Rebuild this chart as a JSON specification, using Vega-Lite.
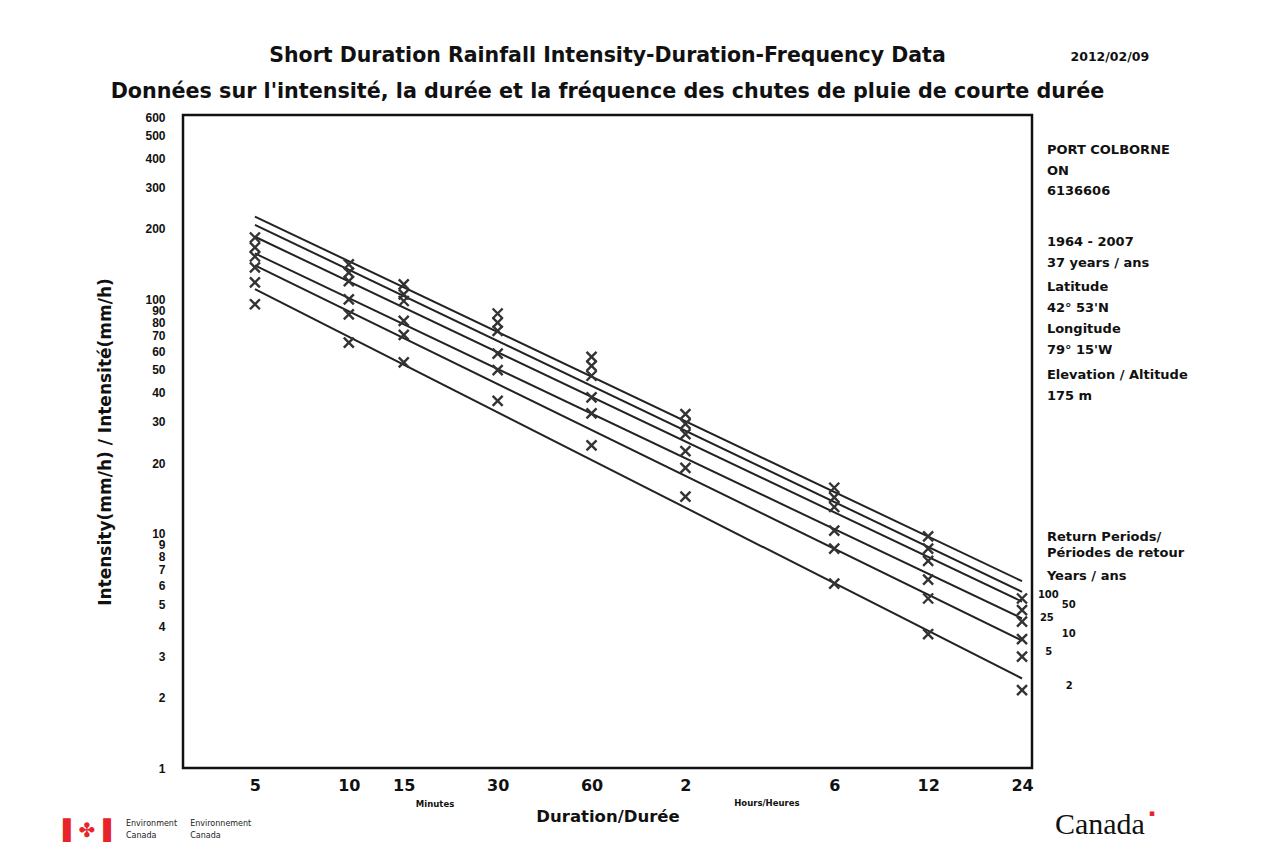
{
  "$schema": "https://vega.github.io/schema/vega-lite/v6.json",
  "width": 849,
  "height": 653,
  "autosize": {"type": "none"},
  "padding": {"left": 183, "top": 115, "right": 233, "bottom": 76},
  "background": "white",
  "config": {
    "view": {"stroke": "#111111", "strokeWidth": 2.5},
    "font": "DejaVu Sans"
  },
  "title": {
    "text": "Short Duration Rainfall Intensity-Duration-Frequency Data",
    "subtitle": "Données sur l'intensité, la durée et la fréquence des chutes de pluie de courte durée",
    "anchor": "middle",
    "frame": "group",
    "font": "DejaVu Sans",
    "fontSize": 20.5,
    "fontWeight": "bold",
    "color": "#111111",
    "subtitleFont": "DejaVu Sans",
    "subtitleFontSize": 20.7,
    "subtitleFontWeight": "bold",
    "subtitleColor": "#111111",
    "subtitlePadding": 16,
    "offset": -51
  },
  "datasets": {
    "points": [
      {"duration": 5, "period": "100", "intensity": 183.6},
      {"duration": 5, "period": "50", "intensity": 166.5},
      {"duration": 5, "period": "25", "intensity": 152.4},
      {"duration": 5, "period": "10", "intensity": 136.8},
      {"duration": 5, "period": "5", "intensity": 118.1},
      {"duration": 5, "period": "2", "intensity": 95.3},
      {"duration": 10, "period": "100", "intensity": 140.9},
      {"duration": 10, "period": "50", "intensity": 130},
      {"duration": 10, "period": "25", "intensity": 119.7},
      {"duration": 10, "period": "10", "intensity": 100},
      {"duration": 10, "period": "5", "intensity": 86.3},
      {"duration": 10, "period": "2", "intensity": 65.4},
      {"duration": 15, "period": "100", "intensity": 115.8},
      {"duration": 15, "period": "50", "intensity": 105},
      {"duration": 15, "period": "25", "intensity": 98.4},
      {"duration": 15, "period": "10", "intensity": 80.9},
      {"duration": 15, "period": "5", "intensity": 70.5},
      {"duration": 15, "period": "2", "intensity": 53.8},
      {"duration": 30, "period": "100", "intensity": 87},
      {"duration": 30, "period": "50", "intensity": 79.6},
      {"duration": 30, "period": "25", "intensity": 73.3},
      {"duration": 30, "period": "10", "intensity": 58.7},
      {"duration": 30, "period": "5", "intensity": 49.9},
      {"duration": 30, "period": "2", "intensity": 36.9},
      {"duration": 60, "period": "100", "intensity": 56.8},
      {"duration": 60, "period": "50", "intensity": 52},
      {"duration": 60, "period": "25", "intensity": 47.2},
      {"duration": 60, "period": "10", "intensity": 38.2},
      {"duration": 60, "period": "5", "intensity": 32.6},
      {"duration": 60, "period": "2", "intensity": 23.8},
      {"duration": 120, "period": "100", "intensity": 32.4},
      {"duration": 120, "period": "50", "intensity": 29.4},
      {"duration": 120, "period": "25", "intensity": 26.6},
      {"duration": 120, "period": "10", "intensity": 22.5},
      {"duration": 120, "period": "5", "intensity": 19.1},
      {"duration": 120, "period": "2", "intensity": 14.4},
      {"duration": 360, "period": "100", "intensity": 15.7},
      {"duration": 360, "period": "50", "intensity": 14.3},
      {"duration": 360, "period": "25", "intensity": 13.0},
      {"duration": 360, "period": "10", "intensity": 10.3},
      {"duration": 360, "period": "5", "intensity": 8.63},
      {"duration": 360, "period": "2", "intensity": 6.12},
      {"duration": 720, "period": "100", "intensity": 9.74},
      {"duration": 720, "period": "50", "intensity": 8.63},
      {"duration": 720, "period": "25", "intensity": 7.65},
      {"duration": 720, "period": "10", "intensity": 6.37},
      {"duration": 720, "period": "5", "intensity": 5.29},
      {"duration": 720, "period": "2", "intensity": 3.73},
      {"duration": 1440, "period": "100", "intensity": 5.29},
      {"duration": 1440, "period": "50", "intensity": 4.72},
      {"duration": 1440, "period": "25", "intensity": 4.21},
      {"duration": 1440, "period": "10", "intensity": 3.55},
      {"duration": 1440, "period": "5", "intensity": 2.99},
      {"duration": 1440, "period": "2", "intensity": 2.15}
    ],
    "fits": [
      {"period": "100", "duration": 5, "intensity": 225.6},
      {"period": "100", "duration": 1440, "intensity": 6.27},
      {"period": "50", "duration": 5, "intensity": 208},
      {"period": "50", "duration": 1440, "intensity": 5.65},
      {"period": "25", "duration": 5, "intensity": 185},
      {"period": "25", "duration": 1440, "intensity": 5.13},
      {"period": "10", "duration": 5, "intensity": 157},
      {"period": "10", "duration": 1440, "intensity": 4.35},
      {"period": "5", "duration": 5, "intensity": 139.6},
      {"period": "5", "duration": 1440, "intensity": 3.5},
      {"period": "2", "duration": 5, "intensity": 110.6},
      {"period": "2", "duration": 1440, "intensity": 2.41}
    ],
    "station": [
      {"label": "PORT COLBORNE", "duration": 1730, "intensity": 434.7},
      {"label": "ON", "duration": 1730, "intensity": 354},
      {"label": "6136606", "duration": 1730, "intensity": 291},
      {"label": "1964 - 2007", "duration": 1730, "intensity": 176.5},
      {"label": "37 years / ans", "duration": 1730, "intensity": 142.3},
      {"label": "Latitude", "duration": 1730, "intensity": 112.5},
      {"label": "42° 53'N", "duration": 1730, "intensity": 91.5},
      {"label": "Longitude", "duration": 1730, "intensity": 74.5},
      {"label": "79° 15'W", "duration": 1730, "intensity": 60.7},
      {"label": "Elevation / Altitude", "duration": 1730, "intensity": 47.5},
      {"label": "175 m", "duration": 1730, "intensity": 38.7},
      {"label": "Return Periods/", "duration": 1730, "intensity": 9.71},
      {"label": "Périodes de retour", "duration": 1730, "intensity": 8.30},
      {"label": "Years / ans", "duration": 1730, "intensity": 6.63}
    ],
    "periodLabels": [
      {"label": "100", "duration": 1619, "intensity": 5.45},
      {"label": "50", "duration": 1932, "intensity": 4.94},
      {"label": "25", "duration": 1643, "intensity": 4.35},
      {"label": "10", "duration": 1932, "intensity": 3.72},
      {"label": "5", "duration": 1710, "intensity": 3.12},
      {"label": "2", "duration": 1990, "intensity": 2.23}
    ],
    "units": [
      {"label": "Minutes", "duration": 18.9, "intensity": 0.703},
      {"label": "Hours/Heures", "duration": 219, "intensity": 0.71}
    ],
    "dateNote": [
      {"label": "2012/02/09", "duration": 2754, "intensity": 1082}
    ],
    "footer": [
      {"label": "Environment", "duration": 1.93, "intensity": 0.578},
      {"label": "Canada", "duration": 1.93, "intensity": 0.514},
      {"label": "Environnement", "duration": 3.1, "intensity": 0.578},
      {"label": "Canada", "duration": 3.1, "intensity": 0.514}
    ],
    "wordmark": [
      {"label": "Canada", "duration": 2559, "intensity": 0.572}
    ],
    "flag": [
      {"label": "▌✤▐", "duration": 1.446, "intensity": 0.539}
    ],
    "wordflag": [
      {"label": "▪", "duration": 3757, "intensity": 0.643}
    ]
  },
  "layer": [
    {
      "data": {"name": "fits"},
      "mark": {"type": "line", "color": "#222222", "strokeWidth": 2},
      "encoding": {
        "x": {
          "field": "duration",
          "type": "quantitative",
          "scale": {"type": "log", "domain": [2.94, 1550], "nice": false},
          "axis": {
            "values": [5, 10, 15, 30, 60, 120, 360, 720, 1440],
            "labelExpr": "datum.value >= 120 ? format(datum.value / 60, 'd') : format(datum.value, 'd')",
            "title": "Duration/Durée",
            "titleFont": "DejaVu Sans",
            "titleFontSize": 16.5,
            "titleFontWeight": "bold",
            "titleColor": "#111111",
            "titlePadding": 15,
            "labelFont": "DejaVu Sans",
            "labelFontSize": 16,
            "labelFontWeight": "bold",
            "labelColor": "#111111",
            "labelPadding": 9,
            "labelFlush": false,
            "labelOverlap": false,
            "ticks": false,
            "domain": false,
            "grid": false
          }
        },
        "y": {
          "field": "intensity",
          "type": "quantitative",
          "scale": {"type": "log", "domain": [1, 612], "nice": false},
          "axis": {
            "values": [1, 2, 3, 4, 5, 6, 7, 8, 9, 10, 20, 30, 40, 50, 60, 70, 80, 90, 100, 200, 300, 400, 500, 600],
            "format": "d",
            "title": "Intensity(mm/h) / Intensité(mm/h)",
            "titleFont": "DejaVu Sans",
            "titleFontSize": 17,
            "titleFontWeight": "bold",
            "titleColor": "#111111",
            "titlePadding": 30,
            "labelFont": "Liberation Sans",
            "labelFontSize": 12,
            "labelFontWeight": "bold",
            "labelColor": "#111111",
            "labelPadding": 18,
            "labelFlush": false,
            "labelOverlap": false,
            "ticks": false,
            "domain": false,
            "grid": false
          }
        },
        "detail": {"field": "period"}
      }
    },
    {
      "data": {"name": "points"},
      "mark": {"type": "point", "shape": "M-1,-1L1,1M-1,1L1,-1", "filled": false, "stroke": "#333333", "strokeWidth": 2.4, "size": 100, "opacity": 1},
      "encoding": {
        "x": {"field": "duration", "type": "quantitative"},
        "y": {"field": "intensity", "type": "quantitative"}
      }
    },
    {
      "data": {"name": "station"},
      "mark": {"type": "text", "align": "left", "baseline": "middle", "font": "DejaVu Sans", "fontSize": 13, "fontWeight": "bold", "color": "#111111"},
      "encoding": {
        "x": {"field": "duration", "type": "quantitative"},
        "y": {"field": "intensity", "type": "quantitative"},
        "text": {"field": "label"}
      }
    },
    {
      "data": {"name": "periodLabels"},
      "mark": {"type": "text", "align": "left", "baseline": "middle", "font": "DejaVu Sans", "fontSize": 10, "fontWeight": "bold", "color": "#111111"},
      "encoding": {
        "x": {"field": "duration", "type": "quantitative"},
        "y": {"field": "intensity", "type": "quantitative"},
        "text": {"field": "label"}
      }
    },
    {
      "data": {"name": "units"},
      "mark": {"type": "text", "align": "center", "baseline": "middle", "font": "DejaVu Sans", "fontSize": 8.5, "fontWeight": "bold", "color": "#111111"},
      "encoding": {
        "x": {"field": "duration", "type": "quantitative"},
        "y": {"field": "intensity", "type": "quantitative"},
        "text": {"field": "label"}
      }
    },
    {
      "data": {"name": "dateNote"},
      "mark": {"type": "text", "align": "center", "baseline": "middle", "font": "DejaVu Sans", "fontSize": 12.5, "fontWeight": "bold", "color": "#111111"},
      "encoding": {
        "x": {"field": "duration", "type": "quantitative"},
        "y": {"field": "intensity", "type": "quantitative"},
        "text": {"field": "label"}
      }
    },
    {
      "data": {"name": "footer"},
      "mark": {"type": "text", "align": "left", "baseline": "middle", "font": "DejaVu Sans", "fontSize": 8, "color": "#222222"},
      "encoding": {
        "x": {"field": "duration", "type": "quantitative"},
        "y": {"field": "intensity", "type": "quantitative"},
        "text": {"field": "label"}
      }
    },
    {
      "data": {"name": "wordmark"},
      "mark": {"type": "text", "align": "center", "baseline": "middle", "font": "Liberation Serif", "fontSize": 30, "color": "#111111"},
      "encoding": {
        "x": {"field": "duration", "type": "quantitative"},
        "y": {"field": "intensity", "type": "quantitative"},
        "text": {"field": "label"}
      }
    },
    {
      "data": {"name": "flag"},
      "mark": {"type": "text", "align": "center", "baseline": "middle", "font": "DejaVu Sans", "fontSize": 20, "color": "#e8242b"},
      "encoding": {
        "x": {"field": "duration", "type": "quantitative"},
        "y": {"field": "intensity", "type": "quantitative"},
        "text": {"field": "label"}
      }
    },
    {
      "data": {"name": "wordflag"},
      "mark": {"type": "text", "align": "center", "baseline": "middle", "font": "DejaVu Sans", "fontSize": 9, "color": "#e8242b"},
      "encoding": {
        "x": {"field": "duration", "type": "quantitative"},
        "y": {"field": "intensity", "type": "quantitative"},
        "text": {"field": "label"}
      }
    }
  ]
}
